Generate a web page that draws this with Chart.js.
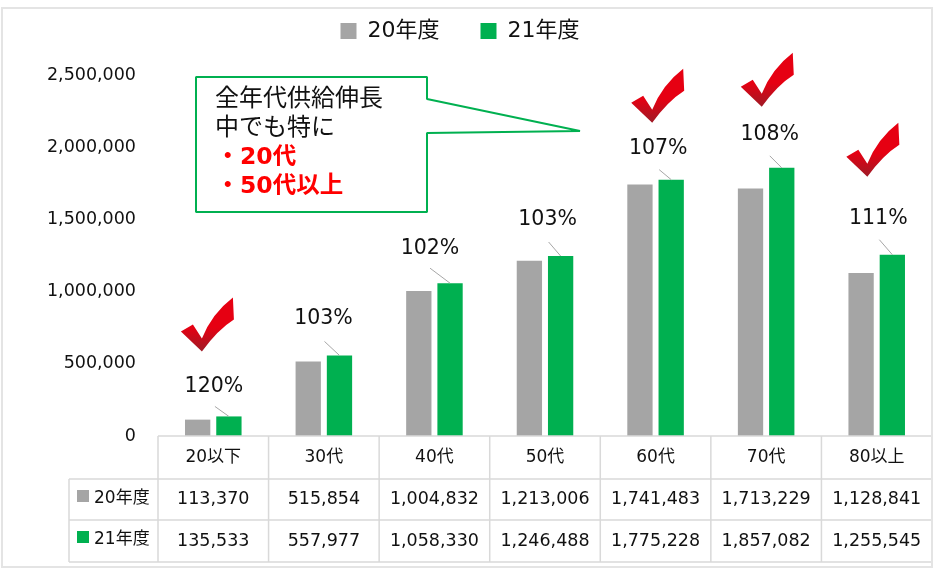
<!DOCTYPE html>
<html>
<head>
<meta charset="utf-8">
<title>年代別供給</title>
<script src="https://cdn.jsdelivr.net/npm/chart.js@4/dist/chart.umd.min.js"></script>
<style>
    html, body { margin: 0; padding: 0; background: #fff; }
    canvas { display: block; }
</style>
</head>
<body>
<canvas id="supplyChart" width="933" height="569"></canvas>
<script>
// Données
const categories = ['20以下', '30代', '40代', '50代', '60代', '70代', '80以上'];
const values20 = [113370, 515854, 1004832, 1213006, 1741483, 1713229, 1128841];
const values21 = [135533, 557977, 1058330, 1246488, 1775228, 1857082, 1255545];
const growthRates = [120, 103, 102, 103, 107, 108, 111];
const checkedCategories = ['20以下', '60代', '70代', '80以上'];
const seriesNames = ['20年度', '21年度'];
const calloutLines = ['全年代供給伸長', '中でも特に'];
const calloutHighlights = ['20代', '50代以上'];

const GRAY = '#A5A5A5';
const GREEN = '#00B050';
const LINE = '#D9D9D9';
const TEXT = '#111111';
const FONT = '"DejaVu Sans", "Noto Sans CJK JP", sans-serif';

// Décalage des étiquettes % par rapport au haut de la barre verte
const labelOffsets = [[-15, -30], [-16, -37], [-20, -35], [-13, -36], [-13, -31], [-12, -33], [-14, -36]];
const leaderOffsets = [[-14, -10], [-15, -14], [-20, -15], [-12, -14], [-12, -10], [-12, -12], [-13, -15]];
// Position de la coche (pointe basse) par rapport au haut de la barre verte
const checkOffsets = { '20以下': [-27, -65], '60代': [-19, -57], '70代': [-20, -61], '80以上': [-25, -78] };

// Légende : hauteur fixe, décalée pour garder l'écart entre les deux entrées
const legendFitPlugin = {
    id: 'legendFit',
    beforeInit(chart) {
        const fit = chart.legend.fit;
        chart.legend.fit = function () {
            fit.bind(chart.legend)();
            this.height = 75;
        };
    },
    afterLayout(chart) {
        chart.legend.top = -21;
        chart.legend.right -= 12;
    }
};

function drawCheck(ctx, x, y) {
    // x, y = pointe basse de la coche
    const g = ctx.createLinearGradient(0, y - 24, 0, y);
    g.addColorStop(0, '#E60012');
    g.addColorStop(1, '#9E1B26');
    ctx.save();
    ctx.fillStyle = g;
    ctx.beginPath();
    ctx.moveTo(x, y);
    ctx.lineTo(x - 21, y - 20);
    ctx.lineTo(x - 9, y - 27);
    ctx.lineTo(x, y - 13);
    ctx.quadraticCurveTo(x + 10, y - 38, x + 31, y - 54);
    ctx.lineTo(x + 32, y - 32);
    ctx.quadraticCurveTo(x + 16, y - 22, x, y);
    ctx.closePath();
    ctx.fill();
    ctx.restore();
}

const annotationsPlugin = {
    id: 'annotations',
    afterDraw(chart) {
        const ctx = chart.ctx;
        const meta = chart.getDatasetMeta(1);
        ctx.save();

        // Etiquettes %, traits de rappel et coches
        growthRates.forEach((rate, i) => {
            const bar = meta.data[i];
            ctx.strokeStyle = '#A6A6A6';
            ctx.lineWidth = 1;
            ctx.beginPath();
            ctx.moveTo(bar.x + leaderOffsets[i][0], bar.y + leaderOffsets[i][1]);
            ctx.lineTo(bar.x, bar.y);
            ctx.stroke();

            ctx.fillStyle = TEXT;
            ctx.font = '20.5px ' + FONT;
            ctx.textAlign = 'center';
            ctx.textBaseline = 'middle';
            ctx.fillText(rate + '%', bar.x + labelOffsets[i][0], bar.y + labelOffsets[i][1]);

            const off = checkOffsets[categories[i]];
            if (checkedCategories.includes(categories[i])) {
                drawCheck(ctx, bar.x + off[0], bar.y + off[1]);
            }
        });

        // Tableau de données sous le graphique
        const xs = chart.scales.x;
        const step = xs.getPixelForValue(1) - xs.getPixelForValue(0);
        const left = xs.getPixelForValue(0) - step / 2;
        const right = left + step * categories.length;
        const rows = [436, 479, 520, 562];
        ctx.strokeStyle = LINE;
        ctx.lineWidth = 1.5;
        ctx.beginPath();
        ctx.moveTo(left, rows[0]);
        ctx.lineTo(right, rows[0]);
        ctx.moveTo(69, rows[1]);
        ctx.lineTo(right, rows[1]);
        ctx.moveTo(69, rows[2]);
        ctx.lineTo(right, rows[2]);
        ctx.moveTo(69, rows[3]);
        ctx.lineTo(right, rows[3]);
        ctx.moveTo(69, rows[1]);
        ctx.lineTo(69, rows[3]);
        for (let i = 0; i <= categories.length; i++) {
            ctx.moveTo(left + step * i, rows[0]);
            ctx.lineTo(left + step * i, rows[3]);
        }
        ctx.stroke();

        [values20, values21].forEach((values, r) => {
            const y = (rows[r + 1] + rows[r + 2]) / 2 - 2;
            ctx.fillStyle = chart.data.datasets[r].backgroundColor;
            ctx.fillRect(77, y - 7.5 - r / 2, 12, 12);
            ctx.fillStyle = TEXT;
            ctx.font = '17px ' + FONT;
            ctx.textAlign = 'left';
            ctx.textBaseline = 'middle';
            ctx.fillText(seriesNames[r], 94, y + 1);
            ctx.font = '17.5px ' + FONT;
            ctx.textAlign = 'center';
            values.forEach((v, i) => {
                ctx.fillText(v.toLocaleString('en-US'), xs.getPixelForValue(i), y + 2);
            });
        });

        // Bulle
        ctx.strokeStyle = GREEN;
        ctx.lineWidth = 2;
        ctx.lineJoin = 'bevel';
        ctx.fillStyle = '#fff';
        ctx.beginPath();
        ctx.moveTo(196, 77);
        ctx.lineTo(427, 77);
        ctx.lineTo(427, 99);
        ctx.lineTo(580, 131);
        ctx.lineTo(427, 133);
        ctx.lineTo(427, 212);
        ctx.lineTo(196, 212);
        ctx.closePath();
        ctx.fill();
        ctx.stroke();

        ctx.fillStyle = TEXT;
        ctx.textAlign = 'left';
        ctx.textBaseline = 'middle';
        ctx.font = '24px ' + FONT;
        calloutLines.forEach((t, i) => ctx.fillText(t, 215, 100 + i * 29));
        ctx.fillStyle = '#FF0000';
        ctx.font = 'bold 23.5px ' + FONT;
        calloutHighlights.forEach((t, i) => {
            ctx.fillText('・', 216, 158 + i * 29);
            ctx.fillText(t, 240, 158 + i * 29);
        });

        // Cadre extérieur
        ctx.strokeStyle = '#E4E4E4';
        ctx.lineWidth = 2;
        ctx.lineJoin = 'miter';
        ctx.strokeRect(2, 8, 930, 559);
        ctx.restore();
    }
};

new Chart(document.getElementById('supplyChart').getContext('2d'), {
    type: 'bar',
    data: {
        labels: categories,
        datasets: [
            { label: seriesNames[0], data: values20, backgroundColor: GRAY },
            { label: seriesNames[1], data: values21, backgroundColor: GREEN }
        ]
    },
    options: {
        responsive: false,
        animation: false,
        categoryPercentage: 0.565,
        barPercentage: 0.81,
        layout: { padding: { left: 0, right: 1, top: 0, bottom: 0 } },
        plugins: {
            tooltip: { enabled: false },
            legend: {
                display: true,
                labels: {
                    boxWidth: 16,
                    boxHeight: 16,
                    padding: 41,
                    color: TEXT,
                    font: { family: FONT, size: 22 }
                }
            }
        },
        scales: {
            x: {
                grid: { display: false },
                border: { display: false },
                ticks: { color: TEXT, padding: 3, font: { family: FONT, size: 17 }, maxRotation: 0 },
                afterFit(scale) { scale.height = 133; }
            },
            y: {
                min: 0,
                max: 2500000,
                grid: { display: false, drawTicks: false },
                border: { display: false },
                ticks: {
                    stepSize: 500000,
                    color: TEXT,
                    padding: 22,
                    font: { family: FONT, size: 17.5 },
                    callback: (v) => v.toLocaleString('en-US')
                },
                afterFit(scale) { scale.width = 158; }
            }
        }
    },
    plugins: [legendFitPlugin, annotationsPlugin]
});
</script>
</body>
</html>
